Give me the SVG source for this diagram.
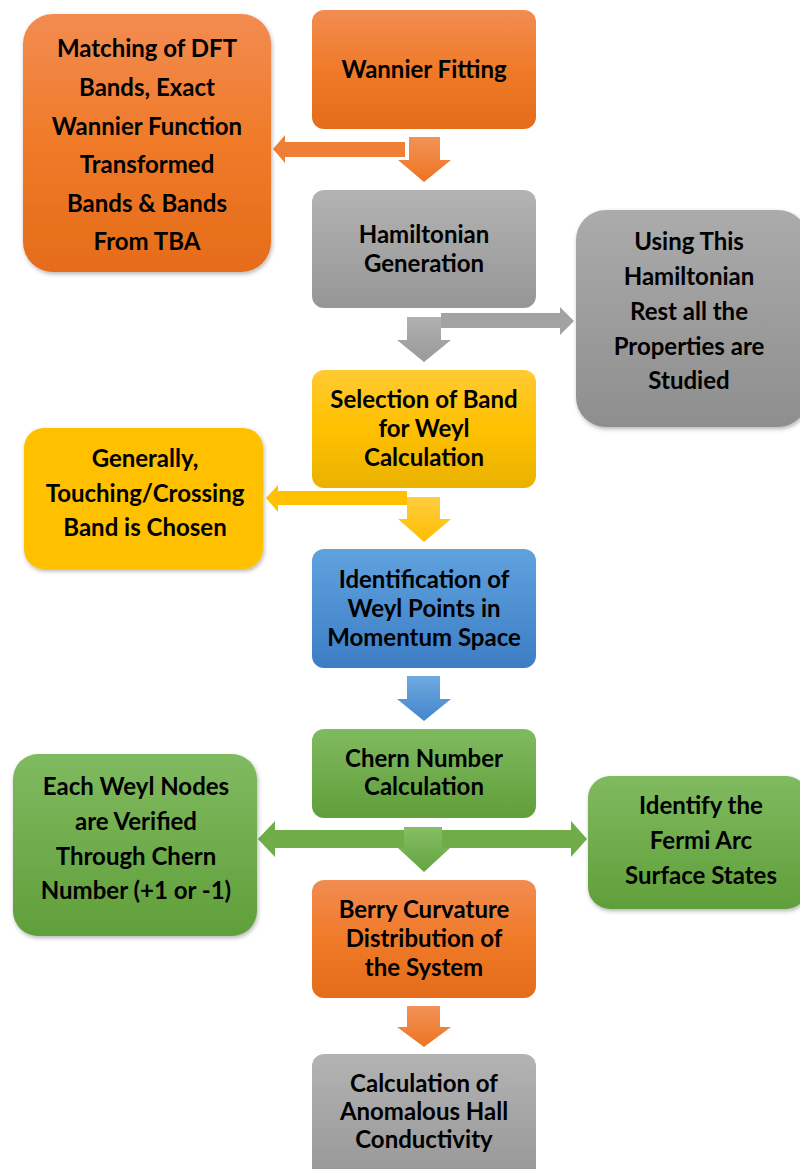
<svg xmlns="http://www.w3.org/2000/svg" width="800" height="1169" viewBox="0 0 800 1169">
<defs>
  <linearGradient id="gOr" x1="0" y1="0" x2="0" y2="1"><stop offset="0" stop-color="#F28C52"/><stop offset="0.5" stop-color="#F07A28"/><stop offset="1" stop-color="#E46C1A"/></linearGradient>
  <linearGradient id="gGr" x1="0" y1="0" x2="0" y2="1"><stop offset="0" stop-color="#B3B3B3"/><stop offset="1" stop-color="#969696"/></linearGradient>
  <linearGradient id="gGr2" x1="0" y1="0" x2="0" y2="1"><stop offset="0" stop-color="#ABABAB"/><stop offset="1" stop-color="#8E8E8E"/></linearGradient>
  <linearGradient id="gYe" x1="0" y1="0" x2="0" y2="1"><stop offset="0" stop-color="#FFCB33"/><stop offset="0.5" stop-color="#FFC000"/><stop offset="1" stop-color="#E9B200"/></linearGradient>
  <linearGradient id="gBl" x1="0" y1="0" x2="0" y2="1"><stop offset="0" stop-color="#60A2DE"/><stop offset="1" stop-color="#3D7DC5"/></linearGradient>
  <linearGradient id="gGn" x1="0" y1="0" x2="0" y2="1"><stop offset="0" stop-color="#80BA60"/><stop offset="1" stop-color="#609F3A"/></linearGradient>
  <linearGradient id="aOr" x1="0" y1="0" x2="0" y2="1"><stop offset="0" stop-color="#F29258"/><stop offset="1" stop-color="#EE7420"/></linearGradient>
  <linearGradient id="aGr" x1="0" y1="0" x2="0" y2="1"><stop offset="0" stop-color="#B0B0B0"/><stop offset="1" stop-color="#9A9A9A"/></linearGradient>
  <linearGradient id="aYe" x1="0" y1="0" x2="0" y2="1"><stop offset="0" stop-color="#FFCC40"/><stop offset="1" stop-color="#FFBE00"/></linearGradient>
  <linearGradient id="aBl" x1="0" y1="0" x2="0" y2="1"><stop offset="0" stop-color="#6EA9E0"/><stop offset="1" stop-color="#4586CC"/></linearGradient>
  <linearGradient id="aGn" x1="0" y1="0" x2="0" y2="1"><stop offset="0" stop-color="#86BE66"/><stop offset="1" stop-color="#64A43E"/></linearGradient>
  <filter id="sh" x="-10%" y="-10%" width="125%" height="125%">
    <feDropShadow dx="1" dy="2" stdDeviation="2" flood-color="#000" flood-opacity="0.3"/>
  </filter>
</defs>
<style>
  text { font-family: Lato, "Liberation Sans", sans-serif; font-weight: bold; font-size: 24px; fill: #000; text-anchor: middle; }
</style>

<g id="connectors">
  <polygon points="409,137 440,137 440,160 451,160 424,182 398,160 409,160" fill="url(#aOr)"/>
  <polygon points="405,142 405,157 285,157 285,163 273,149 285,135 285,142" fill="#EE7F36"/>
  <polygon points="407,317 441,317 441,340 451,340 424,362 397,340 407,340" fill="url(#aGr)"/>
  <polygon points="441,313 560,313 560,307 574,321 560,335 560,328 441,328" fill="#A2A2A2"/>
  <polygon points="407,497 440,497 440,519 451,519 424,542 398,519 407,519" fill="url(#aYe)"/>
  <polygon points="407,491 407,505 278,505 278,512 266,498 278,485 278,491" fill="#FFC000"/>
  <polygon points="407,676 440,676 440,699 451,699 424,721 397,699 407,699" fill="url(#aBl)"/>
  <polygon points="404,827 442,827 442,848 450,848 424,872 398,848 404,848" fill="url(#aGn)"/>
  <polygon points="404,830 404,848 275,848 275,857 258,839 275,821 275,830" fill="#6EAD48"/>
  <polygon points="442,830 571,830 571,821 587,839 571,857 571,848 442,848" fill="#6EAD48"/>
  <polygon points="407,1006 440,1006 440,1027 451,1027 424,1047 397,1027 407,1027" fill="url(#aOr)"/>
</g>

<g id="n1">
  <rect x="312" y="10" width="224" height="119" rx="12" fill="url(#gOr)"/>
  <text x="424" y="78">Wannier Fitting</text>
</g>
<g id="n2">
  <rect x="23" y="14" width="248" height="258" rx="30" fill="url(#gOr)" filter="url(#sh)"/>
  <text x="147" y="57">Matching of DFT</text>
  <text x="147" y="96">Bands, Exact</text>
  <text x="147" y="135">Wannier Function</text>
  <text x="147" y="173">Transformed</text>
  <text x="147" y="212">Bands &amp; Bands</text>
  <text x="147" y="250">From TBA</text>
</g>
<g id="n3">
  <rect x="312" y="190" width="224" height="118" rx="12" fill="url(#gGr)"/>
  <text x="424" y="243">Hamiltonian</text>
  <text x="424" y="272">Generation</text>
</g>
<g id="n4">
  <rect x="576" y="210" width="232" height="217" rx="30" fill="url(#gGr2)" filter="url(#sh)"/>
  <text x="689" y="250">Using This</text>
  <text x="689" y="285">Hamiltonian</text>
  <text x="689" y="320">Rest all the</text>
  <text x="689" y="355">Properties are</text>
  <text x="689" y="389">Studied</text>
</g>
<g id="n5">
  <rect x="312" y="370" width="224" height="118" rx="12" fill="url(#gYe)"/>
  <text x="424" y="408">Selection of Band</text>
  <text x="424" y="437">for Weyl</text>
  <text x="424" y="466">Calculation</text>
</g>
<g id="n6">
  <rect x="24" y="428" width="239" height="141" rx="20" fill="#FFC000" filter="url(#sh)"/>
  <text x="145" y="467">Generally,</text>
  <text x="145" y="502">Touching/Crossing</text>
  <text x="145" y="536">Band is Chosen</text>
</g>
<g id="n7">
  <rect x="312" y="549" width="224" height="119" rx="12" fill="url(#gBl)"/>
  <text x="424" y="588">Identification of</text>
  <text x="424" y="617">Weyl Points in</text>
  <text x="424" y="646">Momentum Space</text>
</g>
<g id="n8">
  <rect x="312" y="729" width="224" height="89" rx="12" fill="url(#gGn)"/>
  <text x="424" y="767">Chern Number</text>
  <text x="424" y="795">Calculation</text>
</g>
<g id="n9">
  <rect x="13" y="754" width="244" height="182" rx="25" fill="url(#gGn)" filter="url(#sh)"/>
  <text x="136" y="795">Each Weyl Nodes</text>
  <text x="136" y="830">are Verified</text>
  <text x="136" y="865">Through Chern</text>
  <text x="136" y="899">Number (+1 or -1)</text>
</g>
<g id="n10">
  <rect x="588" y="776" width="220" height="133" rx="22" fill="url(#gGn)" filter="url(#sh)"/>
  <text x="701" y="814">Identify the</text>
  <text x="701" y="849">Fermi Arc</text>
  <text x="701" y="884">Surface States</text>
</g>
<g id="n11">
  <rect x="312" y="880" width="224" height="118" rx="12" fill="url(#gOr)"/>
  <text x="424" y="918">Berry Curvature</text>
  <text x="424" y="947">Distribution of</text>
  <text x="424" y="976">the System</text>
</g>
<g id="n12">
  <rect x="312" y="1054" width="224" height="130" rx="12" fill="url(#gGr)"/>
  <text x="424" y="1092">Calculation of</text>
  <text x="424" y="1120">Anomalous Hall</text>
  <text x="424" y="1148">Conductivity</text>
</g>
</svg>
